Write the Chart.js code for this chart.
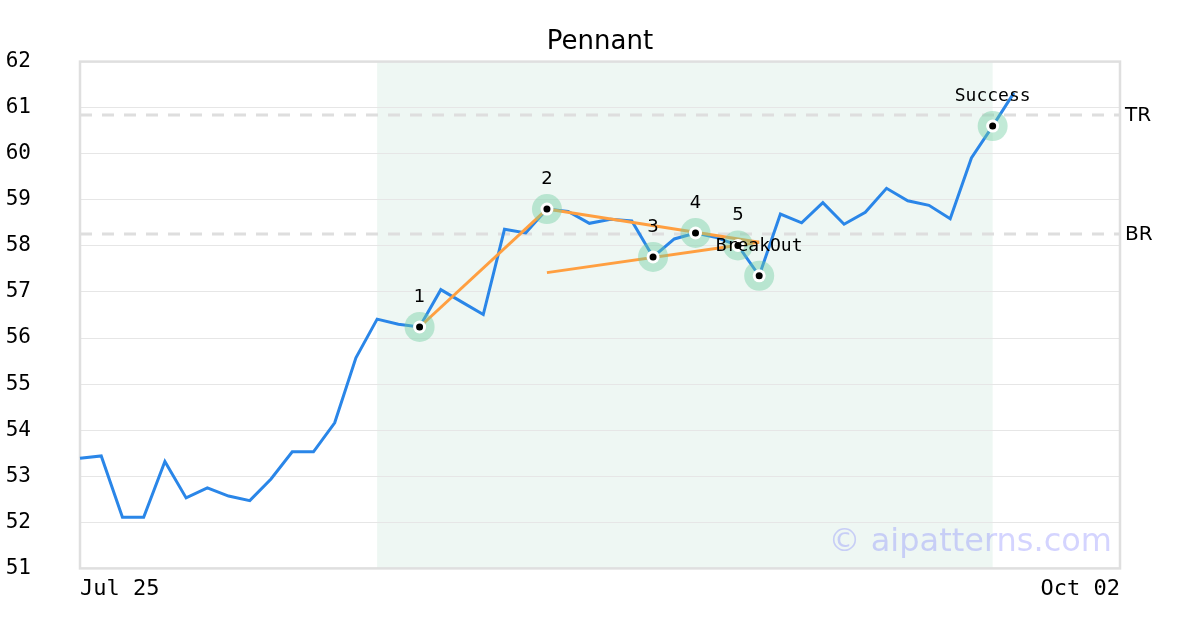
<!DOCTYPE html>
<html>
<head>
<meta charset="utf-8">
<script src="https://cdn.jsdelivr.net/npm/chart.js@4.4.1/dist/chart.umd.min.js"></script>
<style>
	html, body { margin: 0; padding: 0; background: #fff; }
	#wrap { width: 1200px; height: 630px; }
</style>
</head>
<body>
<div id="wrap"><canvas id="chart"></canvas></div>
<script>
// Pennant pattern: close prices, trend lines and marked pivots.
const dates = [
	'Jul 25', 'Jul 26', 'Jul 27', 'Jul 28', 'Jul 31', 'Aug 01', 'Aug 02', 'Aug 03', 'Aug 04', 'Aug 07',
	'Aug 08', 'Aug 09', 'Aug 10', 'Aug 11', 'Aug 14', 'Aug 15', 'Aug 16', 'Aug 17', 'Aug 18', 'Aug 21',
	'Aug 22', 'Aug 23', 'Aug 24', 'Aug 25', 'Aug 28', 'Aug 29', 'Aug 30', 'Aug 31', 'Sep 01', 'Sep 04',
	'Sep 05', 'Sep 06', 'Sep 07', 'Sep 08', 'Sep 11', 'Sep 12', 'Sep 13', 'Sep 14', 'Sep 15', 'Sep 18',
	'Sep 19', 'Sep 20', 'Sep 21', 'Sep 22', 'Sep 25', 'Sep 26', 'Sep 27', 'Sep 28', 'Sep 29', 'Oct 02',
];
const closes = [
	53.39, 53.44, 52.11, 52.11, 53.32, 52.53, 52.75, 52.57, 52.47, 52.94,
	53.53, 53.53, 54.16, 55.57, 56.41, 56.30, 56.24, 57.05, 56.78, 56.51,
	58.36, 58.28, 58.80, 58.75, 58.49, 58.58, 58.54, 57.76, 58.15, 58.28,
	58.18, 58.01, 57.35, 58.69, 58.50, 58.94, 58.47, 58.73, 59.25, 58.98,
	58.88, 58.59, 59.91, 60.60, 61.32,
];

// pattern zone (first/last index) and the two reference levels
const zoneIdx = [14, 43];
const trLevel = 60.84;
const brLevel = 58.26;

// trend lines: [index, value] end points
const poleLine = [[16, 56.24], [22, 58.80]];
const upperLine = [[22, 58.80], [32, 58.08]];
const lowerLine = [[22, 57.42], [32, 58.08]];

// marked pivots
const markerIdx = [16, 22, 27, 29, 31, 32, 43];
const markerText = ['1', '2', '3', '4', '5', 'BreakOut', 'Success'];

const SANS = '"DejaVu Sans", sans-serif';
const MONO = '"DejaVu Sans Mono", monospace';
const COLORS = {
	price: '#2a86e8',
	trend: '#ff9f40',
	zone: '#eef7f3',
	grid: '#e6e6e6',
	frame: '#dfdfdf',
	level: '#dedede',
	halo: 'rgba(110,205,160,0.42)',
};

const toXY = (pts) => pts.map(([i, v]) => ({ x: dates[i], y: v }));
const markerPts = markerIdx.map((i) => ({ x: dates[i], y: closes[i] }));

function markerSet(radius, color, order) {
	return {
		data: markerPts, order, showLine: false,
		pointRadius: radius, pointHoverRadius: radius,
		pointBackgroundColor: color, pointBorderWidth: 0,
	};
}
function trendSet(pts) {
	return {
		data: toXY(pts), order: 3,
		borderColor: COLORS.trend, borderWidth: 3, pointRadius: 0,
	};
}

const patternPlugin = {
	id: 'pattern',
	beforeDraw(chart) {
		const { ctx, chartArea: a, scales: { x } } = chart;
		const x0 = x.getPixelForValue(zoneIdx[0]);
		const x1 = x.getPixelForValue(zoneIdx[1]);
		ctx.save();
		ctx.fillStyle = COLORS.zone;
		ctx.fillRect(x0, a.top, x1 - x0, a.bottom - a.top);
		ctx.restore();
	},
	beforeDatasetsDraw(chart) {
		const { ctx, chartArea: a, scales: { y } } = chart;
		ctx.save();
		// level lines
		ctx.strokeStyle = COLORS.level;
		ctx.lineWidth = 3;
		ctx.setLineDash([12, 10]);
		ctx.font = '20px ' + SANS;
		ctx.fillStyle = '#000';
		ctx.textBaseline = 'middle';
		[[trLevel, 'TR'], [brLevel, 'BR']].forEach(([v, name]) => {
			const py = y.getPixelForValue(v);
			ctx.beginPath();
			ctx.moveTo(a.left, py);
			ctx.lineTo(a.right, py);
			ctx.stroke();
			ctx.fillText(name, a.right + 5, py + 1);
		});
		// frame
		ctx.setLineDash([]);
		ctx.strokeStyle = COLORS.frame;
		ctx.lineWidth = 2.5;
		ctx.strokeRect(a.left, a.top, a.right - a.left, a.bottom - a.top);
		ctx.restore();
	},
	afterDatasetsDraw(chart) {
		const { ctx } = chart;
		const pts = chart.getDatasetMeta(0).data;
		ctx.save();
		ctx.fillStyle = '#000';
		ctx.textAlign = 'center';
		ctx.textBaseline = 'middle';
		pts.forEach((p, k) => {
			const txt = markerText[k];
			ctx.font = '18px ' + (txt.length > 1 ? MONO : SANS);
			ctx.fillText(txt, p.x, p.y - 30);
		});
		ctx.restore();
	},
	afterDraw(chart) {
		const { ctx, chartArea: a } = chart;
		ctx.save();
		ctx.font = '32px ' + SANS;
		ctx.fillStyle = 'rgba(100,100,255,0.28)';
		ctx.textAlign = 'right';
		ctx.textBaseline = 'alphabetic';
		ctx.fillText('\u00a9 aipatterns.com', a.right - 8, a.bottom - 17);
		ctx.restore();
	},
};

new Chart(document.getElementById('chart'), {
	type: 'line',
	data: {
		labels: dates,
		datasets: [
			markerSet(3.5, '#000', 0),
			markerSet(6.5, '#fff', 1),
			markerSet(15, COLORS.halo, 2),
			trendSet(poleLine),
			trendSet(upperLine),
			trendSet(lowerLine),
			{
				data: closes, order: 4,
				borderColor: COLORS.price, borderWidth: 3,
				pointRadius: 0, tension: 0,
			},
		],
	},
	options: {
		responsive: true,
		maintainAspectRatio: false,
		animation: false,
		events: [],
		layout: { padding: 0, autoPadding: false },
		plugins: {
			legend: { display: false },
			tooltip: { enabled: false },
			title: {
				display: true, text: 'Pennant', color: '#000',
				font: { family: SANS, size: 26, weight: 'normal' },
				padding: { top: 25.5, bottom: 3.3 },
			},
		},
		scales: {
			x: {
				grid: { display: false, drawTicks: false },
				border: { display: false },
				ticks: {
					autoSkip: false, maxRotation: 0, align: 'inner', padding: 8,
					color: '#000', font: { family: MONO, size: 22 },
					callback: (v, i) => (i === 0 || i === dates.length - 1) ? dates[i] : '',
				},
				afterFit(s) { s.height = 60; },
			},
			y: {
				min: 51, max: 62,
				grid: { color: COLORS.grid, lineWidth: 1, drawTicks: false },
				border: { display: false },
				ticks: {
					stepSize: 1, crossAlign: 'near', padding: 49,
					color: '#000', font: { family: MONO, size: 21 },
				},
				afterFit(s) { s.width = 80; },
			},
			// empty right gutter for the TR / BR labels
			yRight: {
				position: 'right',
				grid: { display: false, drawTicks: false },
				border: { display: false },
				ticks: { display: false },
				afterFit(s) { s.width = 80; },
			},
		},
	},
	plugins: [patternPlugin],
});
</script>
</body>
</html>
